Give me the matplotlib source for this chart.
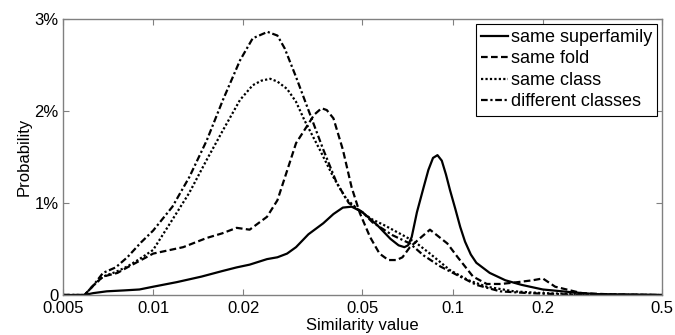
import matplotlib
matplotlib.use("Agg")
import matplotlib.pyplot as plt

plt.rcParams['font.family'] = ['Liberation Sans', 'DejaVu Sans']

# similarity value (x, log scale) and probability in percent (y)
sf_x = [0.005, 0.0059, 0.0063, 0.007, 0.008, 0.009, 0.01, 0.012, 0.0145, 0.017, 0.019, 0.021,
        0.024, 0.026, 0.028, 0.03, 0.033, 0.037, 0.04, 0.043, 0.046, 0.05, 0.056, 0.062, 0.066,
        0.069, 0.071, 0.073, 0.076, 0.08, 0.083, 0.086, 0.089, 0.092, 0.095, 0.098, 0.102,
        0.106, 0.11, 0.115, 0.12, 0.133, 0.15, 0.17, 0.2, 0.25, 0.3, 0.5]
sf_y = [0, 0, 0.02, 0.04, 0.05, 0.06, 0.09, 0.14, 0.2, 0.26, 0.30, 0.33, 0.39, 0.41, 0.45, 0.52,
        0.66, 0.78, 0.88, 0.95, 0.96, 0.90, 0.76, 0.61, 0.54, 0.52, 0.54, 0.63, 0.90, 1.17, 1.36,
        1.49, 1.52, 1.46, 1.31, 1.14, 0.94, 0.74, 0.58, 0.44, 0.35, 0.24, 0.16, 0.11, 0.06, 0.03,
        0.01, 0]

fold_x = [0.005, 0.0059, 0.0063, 0.0068, 0.0076, 0.0082, 0.01, 0.0126, 0.0151, 0.017, 0.019,
          0.021, 0.024, 0.026, 0.028, 0.03, 0.033, 0.0345, 0.0365, 0.038, 0.04, 0.043, 0.046,
          0.049, 0.053, 0.057, 0.061, 0.065, 0.068, 0.072, 0.078, 0.084, 0.091, 0.096, 0.104,
          0.117, 0.13, 0.145, 0.165, 0.185, 0.2, 0.22, 0.27, 0.35, 0.5]
fold_y = [0, 0, 0.1, 0.2, 0.24, 0.30, 0.45, 0.52, 0.62, 0.67, 0.73, 0.71, 0.85, 1.03, 1.35,
          1.65, 1.86, 1.96, 2.03, 2.01, 1.92, 1.58, 1.17, 0.89, 0.63, 0.45, 0.38, 0.38, 0.41,
          0.52, 0.62, 0.71, 0.62, 0.56, 0.41, 0.2, 0.12, 0.12, 0.14, 0.16, 0.18, 0.09, 0.02,
          0.005, 0]

cls_x = [0.005, 0.0059, 0.0063, 0.0068, 0.0075, 0.0082, 0.009, 0.01, 0.0116, 0.0132, 0.0151,
         0.0171, 0.0195, 0.0215, 0.023, 0.0246, 0.026, 0.028, 0.03, 0.032, 0.036, 0.04, 0.044,
         0.049, 0.054, 0.059, 0.07, 0.076, 0.084, 0.098, 0.113, 0.13, 0.16, 0.2, 0.3, 0.5]
cls_y = [0, 0, 0.1, 0.2, 0.25, 0.31, 0.39, 0.49, 0.82, 1.11, 1.47, 1.79, 2.12, 2.28, 2.33, 2.35,
         2.32, 2.24, 2.1, 1.9, 1.58, 1.28, 1.05, 0.91, 0.82, 0.76, 0.63, 0.56, 0.45, 0.27, 0.16,
         0.09, 0.04, 0.02, 0.005, 0]

diff_x = [0.005, 0.0059, 0.0063, 0.0068, 0.0075, 0.0082, 0.0091, 0.01, 0.0116, 0.0132, 0.0151,
          0.0171, 0.0195, 0.0215, 0.0241, 0.026, 0.0275, 0.03, 0.033, 0.037, 0.041, 0.045,
          0.05, 0.054, 0.063, 0.072, 0.08, 0.091, 0.106, 0.12, 0.144, 0.18, 0.25, 0.5]
diff_y = [0, 0, 0.1, 0.24, 0.3, 0.41, 0.57, 0.7, 0.96, 1.28, 1.68, 2.12, 2.55, 2.79, 2.86, 2.82,
          2.68, 2.37, 2.01, 1.58, 1.22, 1.0, 0.9, 0.79, 0.65, 0.56, 0.43, 0.31, 0.2, 0.11, 0.04,
          0.02, 0.005, 0]

labels = ['same superfamily', 'same fold', 'same class', 'different classes']
xticks = [0.005, 0.01, 0.02, 0.05, 0.1, 0.2, 0.5]
xtick_labels = ['0.005', '0.01', '0.02', '0.05', '0.1', '0.2', '0.5']
yticks = [0, 1, 2, 3]
ytick_labels = ['0', '1%', '2%', '3%']

fig = plt.figure(figsize=(6.75, 3.35), dpi=100)
ax = fig.add_axes([0.0933, 0.1194, 0.8874, 0.8239])

lw = 1.6
ax.plot(sf_x, sf_y, color='black', lw=lw, label=labels[0])
ax.plot(fold_x, fold_y, color='black', lw=lw, dashes=(3, 1.5), label=labels[1])
ax.plot(cls_x, cls_y, color='black', lw=lw, dashes=(1, 1), label=labels[2])
ax.plot(diff_x, diff_y, color='black', lw=lw, dashes=(3, 1.2, 1, 1.2), label=labels[3])

ax.set_xscale('log')
ax.set_xlim(0.005, 0.5)
ax.set_ylim(0, 3)
ax.set_xticks(xticks)
ax.set_xticklabels(xtick_labels)
ax.minorticks_off()
ax.set_yticks(yticks)
ax.set_yticklabels(ytick_labels)

ax.tick_params(direction='in', length=4, color='#808080', labelsize=12, top=True, right=True,
               pad=3)
ax.tick_params(axis='x', pad=4)
for s in ax.spines.values():
    s.set_color('#808080')
    s.set_linewidth(1)

ax.set_xlabel('Similarity value', fontsize=12, labelpad=2)
ax.set_ylabel('Probability', fontsize=12, labelpad=2)

leg = ax.legend(loc='upper right', fontsize=13, fancybox=False, framealpha=1,
                edgecolor='black', handlelength=1.5, handletextpad=0.15, labelspacing=0.25,
                borderpad=0.3, borderaxespad=0.25)
leg.get_frame().set_linewidth(0.8)

fig.savefig('out.png', dpi=100)
